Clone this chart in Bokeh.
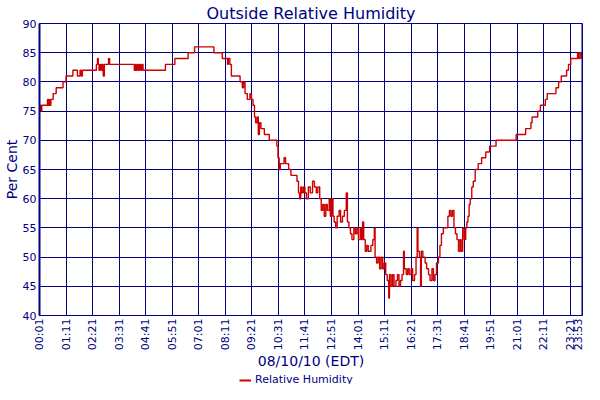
import math
from bokeh.plotting import figure
from bokeh.layouts import column
from bokeh.models import FixedTicker, Legend, LegendItem, Span, Range1d
from bokeh.embed import file_html
from bokeh.resources import INLINE

# minutes since midnight (08/10/10) and relative humidity (%)
minutes = [1, 4, 7, 22, 24, 26, 28, 31, 37, 45, 63, 71, 89, 101, 108, 111, 114, 151, 154, 156,
           158, 161, 164, 166, 169, 172, 183, 186, 251, 254, 256, 259, 262, 265, 268, 271, 274, 333,
           358, 393, 410, 461, 483, 497, 499, 503, 507, 530, 536, 539, 543, 549, 556, 560, 564, 568,
           571, 575, 578, 581, 585, 594, 607, 627, 630, 633, 636, 646, 650, 658, 664, 680, 684, 687,
           690, 693, 697, 701, 705, 710, 715, 721, 726, 731, 735, 740, 744, 748, 752, 756, 760, 765,
           768, 772, 775, 778, 782, 786, 791, 795, 800, 805, 810, 813, 817, 821, 825, 830, 834, 838,
           842, 847, 850, 853, 856, 860, 864, 868, 875, 880, 884, 886, 890, 894, 898, 902, 906, 910,
           914, 918, 922, 924, 928, 932, 936, 941, 945, 949, 953, 957, 961, 963, 968, 972, 976, 981,
           985, 990, 994, 997, 999, 1003, 1006, 1008, 1012, 1018, 1022, 1027, 1031, 1036, 1040, 1044,
           1048, 1053, 1057, 1061, 1066, 1078, 1082, 1086, 1090, 1094, 1098, 1102, 1106, 1110, 1113,
           1117, 1121, 1125, 1128, 1131, 1134, 1137, 1141, 1145, 1150, 1158, 1167, 1178, 1188, 1205,
           1258, 1283, 1297, 1300, 1315, 1322, 1335, 1340, 1363, 1370, 1377, 1391, 1396, 1402, 1420,
           1423, 1427, 1431, 1433]
humidity = [76, 75, 76, 77, 76, 77, 76, 77, 78, 79, 80, 81, 82, 81, 82, 81, 82, 83, 84, 83,
            82, 83, 82, 83, 81, 83, 84, 83, 82, 83, 82, 83, 82, 83, 82, 83, 82, 83,
            84, 85, 86, 85, 84, 83, 84, 83, 81, 80, 79, 80, 78, 77, 78, 77, 76, 74,
            73, 74, 71, 73, 72, 71, 70, 69, 67, 65, 66, 67, 66, 65, 64, 63, 61, 60,
            62, 61, 62, 61, 60, 62, 61, 63, 62, 61, 62, 60, 58, 59, 57, 59, 58, 60,
            57, 60, 57, 56, 55, 57, 58, 56, 57, 58, 61, 56, 55, 54, 53, 55, 54, 55,
            53, 55, 53, 56, 53, 51, 52, 51, 52, 53, 55, 50, 49, 50, 48, 50, 48, 49,
            47, 46, 43, 47, 45, 47, 45, 46, 47, 45, 46, 47, 51, 48, 47, 48, 47, 48,
            46, 47, 50, 55, 51, 50, 45, 51, 50, 49, 48, 47, 46, 48, 46, 47,
            49, 50, 52, 54, 55, 57, 58, 57, 58, 55, 54, 53, 51, 53, 51,
            55, 53, 55, 56, 57, 59, 60, 62, 63, 65, 66, 67, 68, 69, 70,
            71, 72, 73, 74, 75, 76, 77, 78, 79, 80, 81, 82, 83, 84, 85,
            84, 85, 84, 84]

tick_minutes = [1, 71, 141, 211, 281, 351, 421, 491, 561, 631, 701, 771, 841, 911, 981,
                1051, 1121, 1191, 1261, 1331, 1401, 1433]
tick_labels = ["00:01", "01:11", "02:21", "03:31", "04:41", "05:51", "07:01", "08:11", "09:21",
               "10:31", "11:41", "12:51", "14:01", "15:11", "16:21", "17:31", "18:41", "19:51",
               "21:01", "22:11", "23:21", "23:53"]
y_ticks = [40, 45, 50, 55, 60, 65, 70, 75, 80, 85, 90]
series_name = "Relative Humidity"

NAVY = "#000080"
RED = "#cc0000"
FONT = "DejaVu Sans"
LW = 1.4

p = figure(width=584, height=372, output_backend="svg", toolbar_location=None,
           x_range=Range1d(tick_minutes[0], tick_minutes[-1]),
           y_range=Range1d(y_ticks[0], y_ticks[-1]),
           min_border_left=36, min_border_right=2, min_border_top=20, min_border_bottom=50)
p.background_fill_color = "white"
p.border_fill_color = "white"
p.outline_line_color = NAVY
p.outline_line_width = 1

r = p.step(minutes, humidity, mode="after", line_color=RED, line_width=LW)

p.title.text = "Outside Relative Humidity"
p.title.align = "center"
p.title.text_font = FONT
p.title.text_font_size = "16px"
p.title.text_font_style = "normal"
p.title.text_color = NAVY
p.title.standoff = 2

xa = p.xaxis[0]
xa.ticker = FixedTicker(ticks=tick_minutes)
xa.major_label_overrides = {m: s for m, s in zip(tick_minutes, tick_labels)}
xa.major_label_orientation = math.pi / 2
xa.axis_label = "08/10/10 (EDT)"

ya = p.yaxis[0]
ya.ticker = FixedTicker(ticks=y_ticks)
ya.axis_label = "Per Cent"
ya.axis_line_width = 2

for ax in (xa, ya):
    ax.major_tick_out = 0
    ax.major_tick_in = 0
    ax.minor_tick_out = 0
    ax.minor_tick_in = 0
    ax.axis_line_color = NAVY
    ax.major_label_standoff = 3
    ax.major_label_text_font = FONT
    ax.major_label_text_font_size = "11px"
    ax.major_label_text_color = NAVY
    ax.axis_label_text_font = FONT
    ax.axis_label_text_font_size = "14px"
    ax.axis_label_text_font_style = "normal"
    ax.axis_label_text_color = NAVY
    ax.axis_label_standoff = 0

p.xgrid.ticker = FixedTicker(ticks=tick_minutes)
p.ygrid.ticker = FixedTicker(ticks=y_ticks)
for g in (p.xgrid[0], p.ygrid[0]):
    g.grid_line_color = NAVY
    g.grid_line_alpha = 1.0
    g.grid_line_width = 1

p.add_layout(Span(location=minutes[-1], dimension="height", line_color=NAVY, line_width=2))

# legend strip below the chart (same series, kept outside its own visible range)
lf = figure(width=584, height=12, output_backend="svg", toolbar_location=None,
            x_range=Range1d(-2, -1), y_range=Range1d(-2, -1),
            min_border=0, min_border_left=0, min_border_right=0,
            min_border_top=0, min_border_bottom=0,
            x_axis_location=None, y_axis_location=None)
lf.grid.visible = False
lf.outline_line_color = None
lf.background_fill_color = "white"
lf.border_fill_color = "white"
key = lf.step(minutes, humidity, mode="after", line_color=RED, line_width=2)

legend = Legend(items=[LegendItem(label=series_name, renderers=[key])],
                orientation="horizontal", location=(200, -2),
                border_line_color=None, background_fill_alpha=0,
                label_text_font=FONT, label_text_font_size="11px", label_text_color=NAVY,
                glyph_width=12, glyph_height=12, label_height=12, label_standoff=4,
                padding=0, margin=0)
lf.add_layout(legend)

layout = column(p, lf, spacing=0)
open("out.html", "w").write(file_html(layout, INLINE))
